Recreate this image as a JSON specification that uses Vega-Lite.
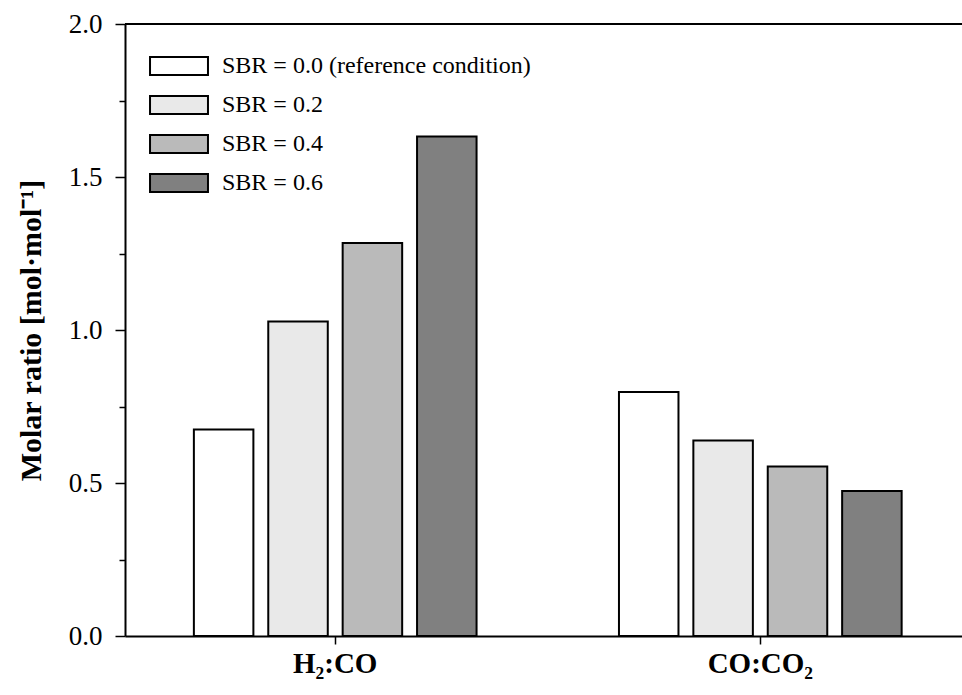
{
  "$schema": "https://vega.github.io/schema/vega-lite/v6.json",
  "autosize": "none",
  "width": 837,
  "height": 612,
  "padding": {"left": 125, "top": 24, "right": 0, "bottom": 59},
  "background": "white",
  "config": {
    "view": {"stroke": null},
    "font": "Liberation Serif"
  },
  "data": {
    "values": [
      {"ratio": "H₂:CO", "SBR": "SBR = 0.0 (reference condition)", "value": 0.675},
      {"ratio": "H₂:CO", "SBR": "SBR = 0.2", "value": 1.028},
      {"ratio": "H₂:CO", "SBR": "SBR = 0.4", "value": 1.284},
      {"ratio": "H₂:CO", "SBR": "SBR = 0.6", "value": 1.632},
      {"ratio": "CO:CO₂", "SBR": "SBR = 0.0 (reference condition)", "value": 0.797},
      {"ratio": "CO:CO₂", "SBR": "SBR = 0.2", "value": 0.639},
      {"ratio": "CO:CO₂", "SBR": "SBR = 0.4", "value": 0.554},
      {"ratio": "CO:CO₂", "SBR": "SBR = 0.6", "value": 0.474}
    ]
  },
  "layer": [
    {
      "mark": {"type": "bar", "stroke": "black", "strokeWidth": 2},
      "encoding": {
        "x": {
          "field": "ratio", "type": "nominal", "sort": null,
          "scale": {"paddingInner": 0.335, "paddingOuter": 0.152, "align": 0.533},
          "axis": {
            "title": null, "labelAngle": 0, "domainColor": "black", "domainWidth": 2,
            "tickColor": "black", "tickSize": 8, "tickWidth": 1.5,
            "labelFont": "Liberation Serif", "labelFontSize": 29, "labelFontWeight": "bold",
            "labelColor": "black", "labelPadding": 5
          }
        },
        "xOffset": {
          "field": "SBR", "type": "nominal", "sort": null,
          "scale": {"paddingInner": 0.2, "paddingOuter": 0}
        },
        "y": {
          "field": "value", "type": "quantitative",
          "scale": {"domain": [0, 2], "nice": false},
          "axis": {
            "title": "Molar ratio [mol·mol⁻¹]",
            "values": [0, 0.25, 0.5, 0.75, 1, 1.25, 1.5, 1.75, 2],
            "labelExpr": "datum.value % 0.5 == 0 ? format(datum.value, '.1f') : ''",
            "grid": false, "domainColor": "black", "domainWidth": 2,
            "tickColor": "black", "tickWidth": 1.5,
            "tickSize": {"condition": {"test": "datum.value % 0.5 != 0", "value": 6}, "value": 10},
            "labelFont": "Liberation Serif", "labelFontSize": 27, "labelColor": "black",
            "labelPadding": 13,
            "titleFont": "Liberation Serif", "titleFontSize": 30, "titleFontWeight": "bold",
            "titleColor": "black", "titlePadding": 22
          }
        },
        "fill": {
          "field": "SBR", "type": "nominal", "sort": null,
          "scale": {
            "domain": ["SBR = 0.0 (reference condition)", "SBR = 0.2", "SBR = 0.4", "SBR = 0.6"],
            "range": ["#ffffff", "#e9e9e9", "#bababa", "#808080"]
          },
          "legend": {
            "title": null, "orient": "none", "legendX": 42, "legendY": 30,
            "padding": 0,
            "symbolType": "M-3.22,-1H3.22V1H-3.22Z",
            "symbolSize": 324,
            "symbolStrokeColor": "black", "symbolStrokeWidth": 2,
            "symbolOpacity": 1,
            "labelOffset": 31,
            "labelFont": "Liberation Serif", "labelFontSize": 24, "labelColor": "black",
            "labelLimit": 600,
            "rowPadding": 13
          }
        }
      }
    },
    {
      "mark": {"type": "rule", "color": "black", "strokeWidth": 2},
      "encoding": {"y": {"datum": 2, "type": "quantitative"}}
    }
  ]
}
